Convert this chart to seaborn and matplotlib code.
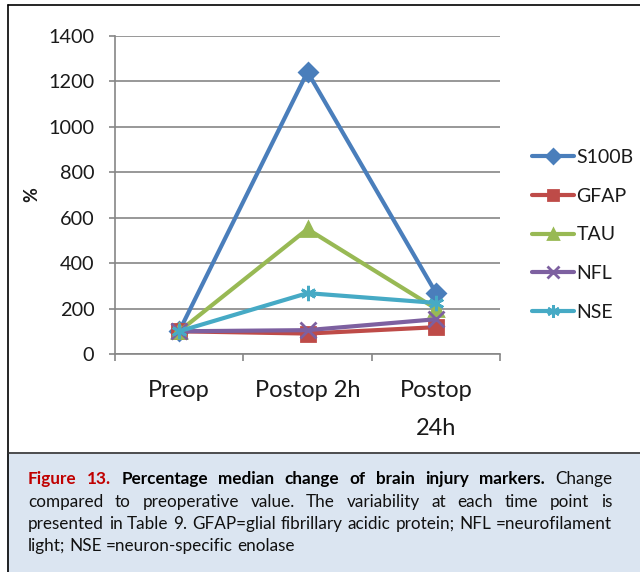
import matplotlib
matplotlib.use("Agg")
import matplotlib.pyplot as plt
from matplotlib.patches import Rectangle
from matplotlib.lines import Line2D
import seaborn as sns
import pandas as pd

# ---------------- data ----------------
timepoints = ["Preop", "Postop 2h", "Postop\n24h"]
markers_names = ["S100B", "GFAP", "TAU", "NFL", "NSE"]
s100b = [100, 1242, 270]
gfap = [100, 90, 118]
tau = [100, 550, 200]
nfl = [100, 105, 153]
nse = [100, 268, 225]
y_ticks = [0, 200, 400, 600, 800, 1000, 1200, 1400]

series = {"S100B": s100b, "GFAP": gfap, "TAU": tau, "NFL": nfl, "NSE": nse}
rows = []
for name in markers_names:
    for i, v in enumerate(series[name]):
        rows.append({"pos": i, "value": v, "marker": name})
df = pd.DataFrame(rows)

palette = {"S100B": "#4A7EBB", "GFAP": "#BE4B48", "TAU": "#98B954",
           "NFL": "#7D60A0", "NSE": "#46AAC5"}
mk = {"S100B": "D", "GFAP": "s", "TAU": "^", "NFL": "x", "NSE": (6, 2, 0)}
msize = {"S100B": 9, "GFAP": 9.5, "TAU": 9.5, "NFL": 11, "NSE": 11}

sns.set_theme(style="white")
plt.rcParams["font.family"] = ["Lato", "DejaVu Sans"]

W, H = 640, 572
fig = plt.figure(figsize=(6.4, 5.72), dpi=100)

def fx(px):
    return px / W

def fy(py):
    return 1 - py / H

# frame lines and caption box
fig.patches.append(Rectangle((fx(7), 0), 1 - fx(7), fy(452), transform=fig.transFigure,
                             facecolor="#DBE5F1", edgecolor="none", zorder=0))
fig.lines.append(Line2D([fx(7.5), fx(7.5)], [0, fy(5)], transform=fig.transFigure,
                        color="black", lw=1.2))
fig.lines.append(Line2D([fx(7.5), 1], [fy(5), fy(5)], transform=fig.transFigure,
                        color="black", lw=1.2))
fig.lines.append(Line2D([fx(7.5), 1], [fy(452.5), fy(452.5)], transform=fig.transFigure,
                        color="#333333", lw=1.2))

ax = fig.add_axes([fx(115), fy(354), fx(500) - fx(115), fy(36) - fy(354)])
for name in markers_names:
    sub = df[df["marker"] == name]
    sns.lineplot(data=sub, x="pos", y="value", color=palette[name], sort=False,
                 marker=mk[name], markersize=msize[name], markeredgewidth=2,
                 markeredgecolor=palette[name], markerfacecolor=palette[name],
                 linewidth=3, ax=ax, legend=False)

ax.set_xlim(-0.5, 2.5)
ax.set_ylim(0, 1400)
ax.set_yticks(y_ticks)
ax.set_yticklabels([str(t) for t in y_ticks], fontsize=14.3, color="#1a1a1a")
ax.set_xticks([0, 1, 2])
ax.set_xticklabels(timepoints, fontsize=17, color="#1a1a1a", linespacing=1.95)
ax.set_xticks([-0.5, 0.5, 1.5, 2.5], minor=True)
ax.tick_params(axis="x", which="major", length=0, pad=19)
ax.tick_params(axis="x", which="minor", length=5, width=1.2, color="#868686", direction="out",
               bottom=True)
ax.tick_params(axis="y", which="major", length=4, width=1.2, color="#868686",
               direction="out", pad=11, left=True)
ax.grid(axis="y", color="#868686", lw=1.2)
ax.set_axisbelow(True)
for s in ("top", "right"):
    ax.spines[s].set_visible(False)
for s in ("left", "bottom"):
    ax.spines[s].set_color("#868686")
    ax.spines[s].set_linewidth(1.2)
ax.set_xlabel("")
ax.set_ylabel("%", fontsize=13, fontweight="bold", color="#1a1a1a")
ax.yaxis.set_label_coords((40 - 115) / 385, 0.5)

# legend
handles = []
for name in markers_names:
    handles.append(Line2D([], [], color=palette[name], lw=3, marker=mk[name],
                          markersize=msize[name] - 2, markeredgewidth=2,
                          markerfacecolor=palette[name], markeredgecolor=palette[name]))
fig.legend(handles, markers_names, loc="center left", bbox_to_anchor=(fx(524), fy(235)),
           frameon=False, fontsize=14, handlelength=2.15, handletextpad=0.15,
           labelspacing=1.12, borderaxespad=0, labelcolor="#1a1a1a")

# caption, justified
cap_lines = [
    [("Figure 13.", "red"), ("Percentage median change of brain injury markers.", "bold"),
     ("Change", "normal")],
    [("compared to preoperative value. The variability at each time point is", "normal")],
    [("presented in Table 9. GFAP=glial fibrillary acidic protein; NFL =neurofilament", "normal")],
    [("light; NSE =neuron-specific enolase", "normal")],
]
baselines = [484, 507, 529, 551]
x_left, x_right = 28, 612
renderer = fig.canvas.get_renderer()
for li, (segs, base) in enumerate(zip(cap_lines, baselines)):
    words = []
    for text, style in segs:
        for w in text.split(" "):
            words.append((w, style))
    objs = []
    for w, style in words:
        kw = dict(fontsize=12.3, va="baseline", ha="left", transform=fig.transFigure)
        if style == "red":
            kw.update(color="#C00000", fontweight="bold")
        elif style == "bold":
            kw.update(color="black", fontweight="bold")
        else:
            kw.update(color="#111111")
        objs.append(fig.text(0, fy(base), w, **kw))
    widths = [o.get_window_extent(renderer).width for o in objs]
    if li < len(cap_lines) - 1:
        gap = (x_right - x_left - sum(widths)) / (len(objs) - 1)
    else:
        gap = 4.0
    x = x_left
    for o, wd in zip(objs, widths):
        o.set_x(fx(x))
        x += wd + gap

fig.savefig("out.png", dpi=100)
